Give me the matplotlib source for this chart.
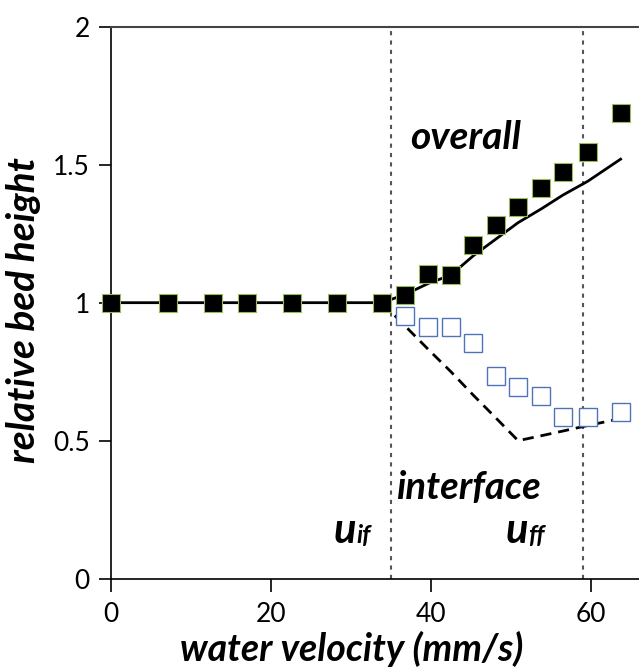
import matplotlib
matplotlib.use("Agg")
import matplotlib.pyplot as plt

# measured velocities (mm/s)
velocity = [0, 7.2, 12.8, 17.0, 22.7, 28.3, 33.9, 36.8, 39.7, 42.5,
            45.3, 48.1, 50.9, 53.8, 56.5, 59.6, 63.7]
overall_meas = [1.0, 1.0, 1.0, 1.0, 1.0, 1.0, 1.0, 1.028, 1.103, 1.10,
                1.209, 1.281, 1.348, 1.414, 1.472, 1.547, 1.688]
overall_model = [1.0, 1.0, 1.0, 1.0, 1.0, 1.0, 1.0, 1.03, 1.07, 1.10,
                 1.17, 1.23, 1.29, 1.34, 1.39, 1.44, 1.52]

# interface only exists above u_if
velocity_if = [36.8, 39.7, 42.5, 45.3, 48.1, 50.9, 53.8, 56.5, 59.6, 63.7]
interface_meas = [0.952, 0.911, 0.911, 0.853, 0.736, 0.693, 0.663,
                  0.587, 0.587, 0.605]
velocity_ifm = [33.9] + velocity_if
interface_model = [1.0, 0.915, 0.83, 0.75, 0.665, 0.583, 0.50, 0.518,
                   0.535, 0.555, 0.58]

u_if = 35.0
u_ff = 59.0

plt.rcParams['font.family'] = ['Lato', 'DejaVu Sans']

fig = plt.figure(figsize=(6.39, 6.67), dpi=100)
ax = fig.add_axes([0.1732, 0.1324, 0.8268, 0.8276])

ax.axvline(u_if, color='#555555', lw=1.5, linestyle=(0, (2, 2.5)), zorder=1)
ax.axvline(u_ff, color='#555555', lw=1.5, linestyle=(0, (2, 2.5)), zorder=1)

ax.plot(velocity, overall_model, color='black', lw=2, zorder=2)
ax.plot(velocity_ifm, interface_model, color='black', lw=2,
        linestyle=(0, (4, 2.5)), zorder=2)
ax.plot(velocity, overall_meas, linestyle='none', marker='s', markersize=12.5,
        markerfacecolor='black', markeredgecolor='#9BBB59',
        markeredgewidth=0.8, zorder=3, clip_on=False)
ax.plot(velocity_if, interface_meas, linestyle='none', marker='s',
        markersize=12.5, markerfacecolor='white', markeredgecolor='#4F72B8',
        markeredgewidth=1.0, zorder=3, clip_on=False)

ax.set_xlim(0, 66)
ax.set_ylim(0, 2)
ax.set_xticks([0, 20, 40, 60])
ax.set_yticks([0, 0.5, 1, 1.5, 2])
ax.set_yticklabels(['0', '0.5', '1', '1.5', '2'])
ax.tick_params(direction='out', length=9, width=1.2, labelsize=19,
               colors='black', pad=6)
ax.tick_params(axis='x', pad=8)
ax.spines['right'].set_visible(False)
ax.spines['top'].set_color('#444444')
ax.spines['top'].set_linewidth(1.5)
for s in ['left', 'bottom']:
    ax.spines[s].set_linewidth(1.2)

ax.set_xlabel('water velocity (mm/s)', fontsize=27, fontweight='bold',
              fontstyle='italic')
ax.xaxis.set_label_coords(0.457, -0.094)
ax.xaxis.label.set_va('top')
ax.set_ylabel('relative bed height', fontsize=28, fontweight='bold',
              fontstyle='italic')
ax.yaxis.set_label_coords(-0.131, 0.487)

bi = dict(fontweight='bold', fontstyle='italic', color='black')
ax.text(44.3, 1.597, 'overall', fontsize=28, ha='center', va='center', **bi)
ax.text(44.7, 0.329, 'interface', fontsize=27.5, ha='center', va='center', **bi)
ax.text(30.7, 0.129, 'u', fontsize=30, ha='right', va='baseline', **bi)
ax.text(30.7, 0.129, 'if', fontsize=18, ha='left', va='baseline', **bi)
ax.text(52.1, 0.129, 'u', fontsize=30, ha='right', va='baseline', **bi)
ax.text(52.1, 0.129, 'ff', fontsize=18, ha='left', va='baseline', **bi)

fig.savefig('out.png', dpi=100)
